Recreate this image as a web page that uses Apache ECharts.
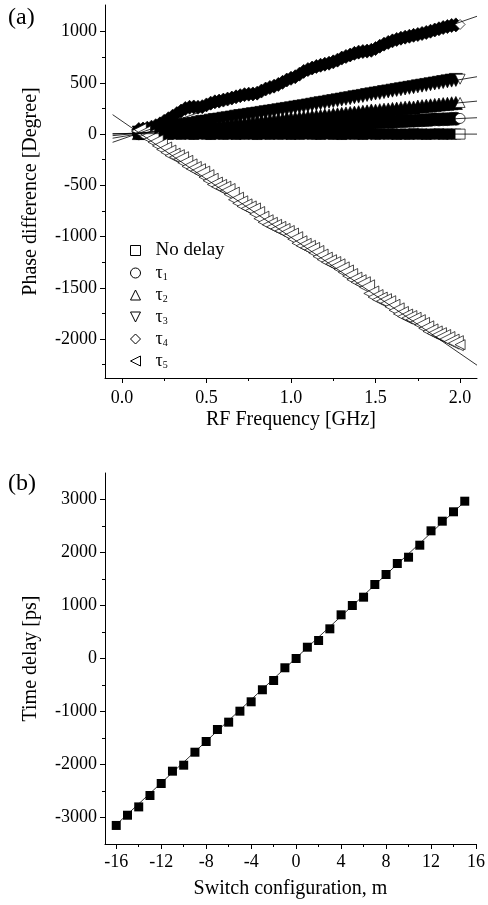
<!DOCTYPE html>
<html>
<head>
<meta charset="utf-8">
<script src="https://cdn.jsdelivr.net/npm/echarts/dist/echarts.min.js"></script>
<style>
  html, body { margin: 0; padding: 0; background: #fff; }
  #chart { width: 488px; height: 905px; }
</style>
</head>
<body>
<div id="chart"></div>
<script>
// (a) phase difference vs RF frequency
const freqA = [
  0.100, 0.125, 0.150, 0.175, 0.200, 0.225, 0.250, 0.275, 0.300, 0.325, 0.350,
  0.375, 0.400, 0.425, 0.450, 0.475, 0.500, 0.525, 0.550, 0.575, 0.600, 0.625,
  0.650, 0.675, 0.700, 0.725, 0.750, 0.775, 0.800, 0.825, 0.850, 0.875, 0.900,
  0.925, 0.950, 0.975, 1.000, 1.025, 1.050, 1.075, 1.100, 1.125, 1.150, 1.175,
  1.200, 1.225, 1.250, 1.275, 1.300, 1.325, 1.350, 1.375, 1.400, 1.425, 1.450,
  1.475, 1.500, 1.525, 1.550, 1.575, 1.600, 1.625, 1.650, 1.675, 1.700, 1.725,
  1.750, 1.775, 1.800, 1.825, 1.850, 1.875, 1.900, 1.925, 1.950, 1.975, 2.000
]
const phaseNoDelay = [
  3, -2, 4, 1, -3, 2, 0, -4, 3, 1, -2,
  5, 0, -3, 2, 4, -1, -4, 1, 3, -2, 0,
  4, -3, 2, -1, 3, 0, -4, 2, 1, -2, 4,
  -1, 0, 3, -3, 2, -2, 1, 4, -1, 0, -3,
  3, 2, -2, 1, -4, 0, 3, -1, 2, -3, 1,
  4, -2, 0, 2, -1, 3, -3, 1, 0, -2, 4,
  -1, 2, -3, 1, 0, 3, -2, 2, -1, 1, 0
]
const phaseTau1 = [
  8, 11, 12, 14, 16, 18, 20, 22, 23, 26, 27,
  29, 34, 33, 35, 37, 39, 41, 43, 44, 43, 48,
  51, 52, 54, 56, 57, 60, 62, 63, 68, 67, 69,
  71, 72, 75, 77, 78, 80, 82, 80, 86, 88, 90,
  92, 93, 96, 97, 99, 101, 107, 105, 107, 108, 111,
  112, 114, 116, 118, 120, 119, 124, 126, 127, 130, 131,
  133, 135, 137, 139, 144, 143, 145, 146, 149, 150, 153
]
const phaseTau2 = [
  10, 14, 18, 22, 26, 30, 33, 38, 41, 46, 49,
  53, 57, 62, 65, 74, 73, 77, 80, 85, 89, 92,
  96, 101, 104, 104, 112, 116, 120, 124, 128, 132, 135,
  140, 143, 152, 152, 155, 159, 163, 167, 171, 175, 178,
  183, 181, 191, 194, 198, 202, 206, 210, 214, 218, 222,
  231, 229, 234, 238, 241, 246, 249, 253, 258, 261, 260,
  269, 273, 277, 281, 285, 289, 293, 296, 301, 304, 309
]
const phaseTau3 = [
  15, 22, 29, 36, 42, 49, 56, 63, 70, 74, 84,
  90, 97, 101, 111, 118, 122, 131, 138, 142, 150, 155,
  162, 170, 176, 182, 188, 195, 200, 207, 214, 220, 226,
  233, 240, 246, 252, 260, 266, 272, 280, 287, 295, 302,
  308, 316, 322, 330, 337, 345, 351, 360, 366, 373, 382,
  388, 396, 402, 410, 417, 424, 431, 438, 445, 452, 458,
  466, 473, 480, 487, 494, 501, 508, 515, 522, 529, 536
]
const phaseTau4 = [
  45, 50, 58, 68, 82, 100, 125, 150, 175, 200, 225,
  250, 262, 265, 262, 268, 285, 302, 315, 322, 332, 342,
  352, 364, 375, 385, 390, 392, 400, 420, 440, 455, 468,
  485, 505, 528, 545, 560, 585, 612, 630, 645, 660, 672,
  682, 692, 705, 722, 742, 758, 772, 788, 800, 806, 810,
  818, 835, 858, 878, 895, 910, 924, 936, 946, 955, 964,
  972, 982, 992, 1004, 1016, 1028, 1040, 1050, 1060, 1066, 1070
]
const phaseTau5 = [
  30, 5, -25, -50, -80, -115, -150, -180, -210, -225, -245,
  -280, -315, -340, -362, -385, -420, -455, -492, -515, -532, -555,
  -590, -640, -675, -705, -725, -745, -780, -825, -860, -885, -905,
  -925, -945, -965, -990, -1025, -1065, -1090, -1110, -1130, -1160, -1195,
  -1225, -1250, -1268, -1290, -1320, -1350, -1385, -1420, -1445, -1465, -1495,
  -1555, -1590, -1615, -1630, -1650, -1685, -1720, -1755, -1780, -1795, -1812,
  -1835, -1862, -1895, -1925, -1945, -1962, -1980, -2000, -2025, -2040, -2055
]
// linear fits in (a): end points
const fitFreqA = [-0.055, 2.1]
const fitNoDelay = [5, 0]
const fitTau1 = [0, 160]
const fitTau2 = [-15, 322]
const fitTau3 = [-40, 560]
const fitTau4 = [-80, 1150]
const fitTau5 = [190, -2255]

const namesA = ['No delay', 'τ1', 'τ2', 'τ3', 'τ4', 'τ5']

// (b) time delay vs switch configuration
const switchM = [
  -16, -15, -14, -13, -12, -11, -10, -9, -8, -7, -6, -5, -4, -3, -2, -1,
  0, 1, 2, 3, 4, 5, 6, 7, 8, 9, 10, 11, 12, 13, 14, 15
]
const delayPs = [
  -3150, -2957, -2800, -2585, -2358, -2126, -2013, -1768, -1566, -1340, -1201, -994, -817, -590, -415, -175,
  0, 213, 340, 560, 824, 1000, 1157, 1396, 1585, 1792, 1911, 2138, 2409, 2591, 2768, 2968
]
const fitM = [-16, 15]
const fitDelay = [-3135, 2960]

// ticks
const xMajorA = [0, 0.5, 1, 1.5, 2]
const xMinorA = [0.25, 0.75, 1.25, 1.75]
const yMajorA = [-2000, -1500, -1000, -500, 0, 500, 1000]
const yMinorA = [-2250, -1750, -1250, -750, -250, 250, 750]
const xMajorB = [-16, -12, -8, -4, 0, 4, 8, 12, 16]
const xMinorB = [-14, -10, -6, -2, 2, 6, 10, 14]
const yMajorB = [-3000, -2000, -1000, 0, 1000, 2000, 3000]
const yMinorB = [-2500, -1500, -500, 500, 1500, 2500]

const FONT = '"Liberation Serif", "Times New Roman", serif'

function majorAxis(gridIndex, isY, min, max, ticks, fmt, name, nameGap, labelMargin) {
    return {
        type: 'value',
        gridIndex,
        position: isY ? 'left' : 'bottom',
        min,
        max,
        name,
        nameLocation: 'middle',
        nameGap,
        nameTextStyle: { fontFamily: FONT, fontSize: 20, color: '#000' },
        axisLine: { show: true, onZero: false, lineStyle: { color: '#000', width: 1 } },
        axisTick: { show: true, customValues: ticks, length: 5, lineStyle: { color: '#000', width: 1 } },
        axisLabel: {
            customValues: ticks,
            formatter: fmt,
            fontFamily: FONT,
            fontSize: 18,
            color: '#000',
            margin: labelMargin,
        },
        splitLine: { show: false },
    }
}

function minorAxis(gridIndex, isY, min, max, ticks) {
    return {
        type: 'value',
        gridIndex,
        position: isY ? 'left' : 'bottom',
        min,
        max,
        axisLine: { show: false, onZero: false },
        axisTick: { show: true, customValues: ticks, length: 3, lineStyle: { color: '#000', width: 1 } },
        axisLabel: { show: false },
        splitLine: { show: false },
    }
}

function pairs(xs, ys) {
    return xs.map((x, i) => [x, ys[i]])
}

const symbolsA = [
    'rect',
    'circle',
    'triangle',
    'path://M0,0L20,0L10,20Z',
    'diamond',
    'path://M20,0L20,20L0,10Z',
]
const sizesA = [10, 13, 13, 13, 14, 15]
const valuesA = [phaseNoDelay, phaseTau1, phaseTau2, phaseTau3, phaseTau4, phaseTau5]
const fitsA = [fitNoDelay, fitTau1, fitTau2, fitTau3, fitTau4, fitTau5]

const series = []
namesA.forEach((name, k) => {
    const open = k === 5
    const data = pairs(freqA, valuesA[k]).map((p, i) => {
        // last marker of each band shows as an open symbol
        if (i === freqA.length - 1) {
            return { value: p, symbolSize: 10, itemStyle: { color: '#fff' } }
        }
        return p
    })
    series.push({
        name,
        type: 'scatter',
        xAxisIndex: 0,
        yAxisIndex: 0,
        symbol: symbolsA[k],
        symbolSize: sizesA[k],
        itemStyle: {
            color: open ? '#fff' : '#000',
            borderColor: '#000',
            borderWidth: 0.7,
            opacity: 1,
        },
        data,
        z: 2,
    })
})
fitsA.forEach(fit => {
    series.push({
        type: 'line',
        xAxisIndex: 0,
        yAxisIndex: 0,
        symbol: 'none',
        lineStyle: { color: '#000', width: 0.8 },
        data: pairs(fitFreqA, fit),
        z: 3,
    })
})
series.push({
    type: 'line',
    xAxisIndex: 2,
    yAxisIndex: 2,
    symbol: 'none',
    lineStyle: { color: '#000', width: 0.8 },
    data: pairs(fitM, fitDelay),
    z: 2,
})
series.push({
    name: 'delay',
    type: 'scatter',
    xAxisIndex: 2,
    yAxisIndex: 2,
    symbol: 'rect',
    symbolSize: 9,
    itemStyle: { color: '#000', opacity: 1 },
    data: pairs(switchM, delayPs),
    z: 3,
})

const chart = echarts.init(document.getElementById('chart'), null, { renderer: 'canvas' })
chart.setOption({
    animation: false,
    backgroundColor: '#fff',
    textStyle: { fontFamily: FONT },
    graphic: [
        { type: 'text', left: 8, top: 6, style: { text: '(a)', font: '24px ' + FONT, fill: '#000' } },
        { type: 'text', left: 8, top: 472, style: { text: '(b)', font: '24px ' + FONT, fill: '#000' } },
    ],
    grid: [
        { left: 105, right: 11, top: 5, height: 373 },
        { left: 105, right: 12, top: 473, height: 371 },
    ],
    legend: {
        data: namesA,
        orient: 'vertical',
        left: 125,
        top: 236,
        itemWidth: 10,
        itemHeight: 10,
        itemGap: 4,
        selectedMode: false,
        itemStyle: { color: '#fff', borderColor: '#000', borderWidth: 1 },
        formatter(name) {
            if (name === 'No delay') return '{n|No delay}'
            return '{t|τ}{s|' + name.slice(1) + '}'
        },
        textStyle: {
            fontFamily: FONT,
            color: '#000',
            rich: {
                n: { fontFamily: FONT, fontSize: 19, lineHeight: 18, color: '#000', padding: [0, 0, 0, 10] },
                t: { fontFamily: FONT, fontSize: 18, lineHeight: 18, color: '#000', padding: [0, 0, 0, 10] },
                s: { fontFamily: FONT, fontSize: 10, lineHeight: 10, verticalAlign: 'bottom', color: '#000' },
            },
        },
    },
    xAxis: [
        majorAxis(0, false, -0.1, 2.1, xMajorA, v => v.toFixed(1), 'RF Frequency [GHz]', 32, 11),
        minorAxis(0, false, -0.1, 2.1, xMinorA),
        majorAxis(1, false, -17, 16, xMajorB, v => String(v), 'Switch configuration, m', 35, 9),
        minorAxis(1, false, -17, 16, xMinorB),
    ],
    yAxis: [
        majorAxis(0, true, -2380, 1260, yMajorA, v => String(v), 'Phase difference [Degree]', 64, 8),
        minorAxis(0, true, -2380, 1260, yMinorA),
        majorAxis(1, true, -3500, 3500, yMajorB, v => String(v), 'Time delay [ps]', 64, 8),
        minorAxis(1, true, -3500, 3500, yMinorB),
    ],
    series,
})
</script>
</body>
</html>
